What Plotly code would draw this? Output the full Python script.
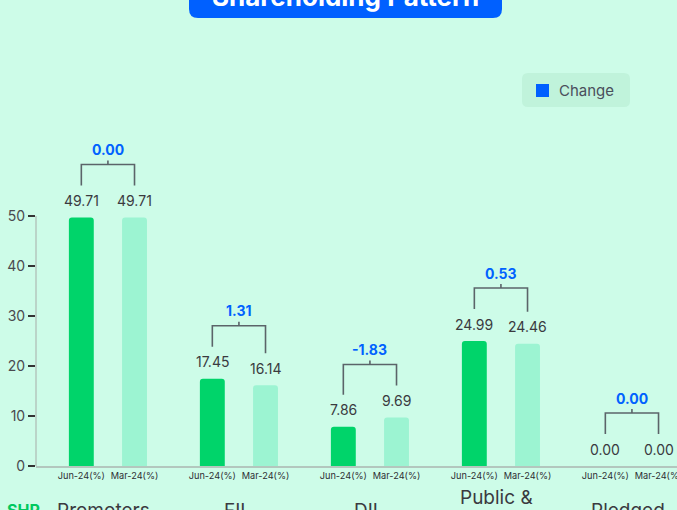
import plotly.graph_objects as go

# ---------------- data ----------------
categories = ["Promoters", "FII", "DII", "Public &<br>Others", "Pledged"]
jun_values = [49.71, 17.45, 7.86, 24.99, 0.00]
mar_values = [49.71, 16.14, 9.69, 24.46, 0.00]
change_values = [0.00, 1.31, -1.83, 0.53, 0.00]
period_labels = ["Jun-24(%)", "Mar-24(%)"]
y_ticks = [0, 10, 20, 30, 40, 50]

# ---------------- style ----------------
BG = "#CDFCE8"
JUN_C = "#00D46A"
MAR_C = "#9CF4D2"
BLUE = "#0062FF"
BRACKET_C = "#5B6469"
AXIS_C = "#B3C7BE"
TXT = "#3A3A3F"
FONT = "Inter, 'Open Sans', sans-serif"

W, H = 677, 510
L, T, R, B = 36, 0, 0, 44
PW, PH = W - L - R, H - T - B
UNIT_PX = 5.0                      # pixels per y unit (0..50 spans 250 px)
Y_RANGE = [0, PH / UNIT_PX]        # plot area reaches the top of the page
AXIS_TOP = 50

def px(x):
    return (x - L) / PW

def py(y):
    return (H - B - y) / PH

OFF = 0.203      # half distance between paired bars (x units)
BW = 0.19        # bar width (x units)
X_RANGE = [-0.549, 4.344]
u = UNIT_PX

idx = list(range(len(categories)))
x_jun = [i - OFF for i in idx]
x_mar = [i + OFF for i in idx]

fig = go.Figure()
fig.add_trace(go.Bar(x=x_jun, y=jun_values, width=BW, marker=dict(color=JUN_C, line_width=0),
                     showlegend=False, hoverinfo="y"))
fig.add_trace(go.Bar(x=x_mar, y=mar_values, width=BW, marker=dict(color=MAR_C, line_width=0),
                     showlegend=False, hoverinfo="y"))

annotations = []
# value labels
for xs, vals in ((x_jun, jun_values), (x_mar, mar_values)):
    for x, v in zip(xs, vals):
        annotations.append(dict(x=x, y=v, xref="x", yref="y", text=f"{v:.2f}", showarrow=False,
                                yanchor="middle", yshift=17, font=dict(size=14, color=TXT, family=FONT)))

# brackets
LEG_PX, TOP_PX, TICK_PX = 32, 53, 4
for i, (j, m, c) in enumerate(zip(jun_values, mar_values, change_values)):
    top = max(j, m) + TOP_PX / u
    bx = [x_jun[i], x_jun[i], x_mar[i], x_mar[i], None, i, i]
    by = [j + LEG_PX / u, top, top, m + LEG_PX / u, None, top, top + TICK_PX / u]
    fig.add_trace(go.Scatter(x=bx, y=by, mode="lines", line=dict(color=BRACKET_C, width=1.6),
                             cliponaxis=False, showlegend=False, hoverinfo="skip"))
    annotations.append(dict(x=i, y=max(j, m), xref="x", yref="y", text=f"<b>{c:.2f}</b>", showarrow=False,
                            yanchor="middle", yshift=TOP_PX + 15, font=dict(size=14, color=BLUE, family=FONT)))

# category labels
for i, cat in enumerate(categories):
    annotations.append(dict(x=i, y=0, xref="x", yref="paper", text=cat, showarrow=False,
                            xanchor="center", xshift=-4, yanchor="middle", yshift=-44,
                            font=dict(size=19, color=TXT, family=FONT)))
annotations.append(dict(x=px(23), y=0, xref="paper", yref="paper", text="<b>SHP</b>", showarrow=False,
                        xanchor="center", yanchor="middle", yshift=-44,
                        font=dict(size=16, color="#00C95E", family=FONT)))

# title
annotations.append(dict(x=px(345.5), y=py(-4), xref="paper", yref="paper", text="<b>Shareholding Pattern</b>",
                        showarrow=False, xanchor="center", yanchor="middle",
                        font=dict(size=26, color="white", family=FONT)))
# legend text
annotations.append(dict(x=px(557), y=py(90.5), xref="paper", yref="paper", text="Change", showarrow=False,
                        xanchor="left", yanchor="middle", font=dict(size=15, color="#4A4F5C", family=FONT)))


def rounded_rect(x0, y0, x1, y1, r):
    # pixel coords (y down) -> paper path
    def P(x, y):
        return f"{px(x)},{py(y)}"
    return (f"M {P(x0 + r, y0)} L {P(x1 - r, y0)} Q {P(x1, y0)} {P(x1, y0 + r)} "
            f"L {P(x1, y1 - r)} Q {P(x1, y1)} {P(x1 - r, y1)} L {P(x0 + r, y1)} "
            f"Q {P(x0, y1)} {P(x0, y1 - r)} L {P(x0, y0 + r)} Q {P(x0, y0)} {P(x0 + r, y0)} Z")


shapes = [
    dict(type="path", xref="paper", yref="paper", path=rounded_rect(189, -30, 502, 18, 9),
         fillcolor="#0060FF", line_width=0, layer="above"),
    dict(type="path", xref="paper", yref="paper", path=rounded_rect(522, 73, 630, 107, 6),
         fillcolor="#C0F3DB", line_width=0, layer="below"),
    dict(type="rect", xref="paper", yref="paper", x0=px(536), x1=px(549), y0=py(84), y1=py(97),
         fillcolor="#0060FF", line_width=0),
    # y axis line (0..50)
    dict(type="line", xref="paper", yref="y", x0=0, x1=0, y0=0, y1=AXIS_TOP,
         line=dict(color=AXIS_C, width=1.5), layer="below"),
]

fig.update_layout(
    width=W, height=H,
    margin=dict(l=L, r=R, t=T, b=B, pad=0, autoexpand=False),
    paper_bgcolor=BG, plot_bgcolor=BG,
    barmode="overlay", barcornerradius=3,
    font=dict(family=FONT, color=TXT),
    annotations=annotations, shapes=shapes,
    showlegend=False,
    xaxis=dict(range=X_RANGE, tickvals=x_jun + x_mar,
               ticktext=[period_labels[0]] * len(idx) + [period_labels[1]] * len(idx),
               tickfont=dict(size=9.2, color="#2E2E33", family=FONT), ticks="", showgrid=False,
               ticklabeloverflow="allow", automargin=False,
               zeroline=False, showline=True, linecolor=AXIS_C, linewidth=1.5, fixedrange=True),
    yaxis=dict(range=Y_RANGE, tickvals=y_ticks, ticks="outside", ticklen=7, tickwidth=2, tickcolor="#333",
               tickfont=dict(size=14, color="#4A4A4F", family=FONT), showgrid=False, zeroline=False,
               showline=False, fixedrange=True, automargin=False),
)

fig.write_html("out.html")
